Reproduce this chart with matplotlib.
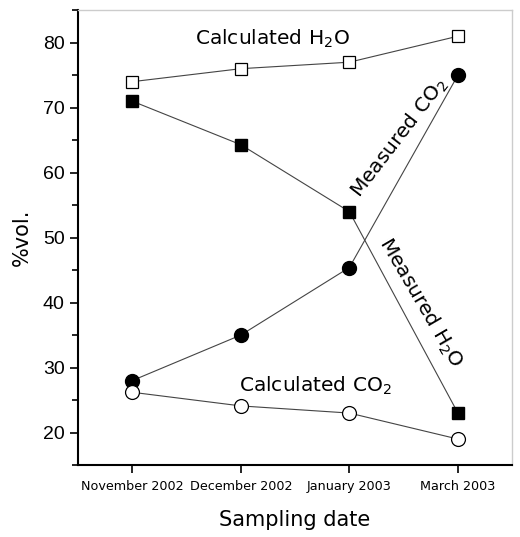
import numpy as np
import matplotlib.pyplot as plt
from matplotlib.ticker import MultipleLocator

# Data ------------------------------------------------------------
dates = ["November 2002", "December 2002", "January 2003", "March 2003"]
calc_h2o = [74.0, 76.0, 77.0, 81.0]
meas_h2o = [71.0, 64.3, 54.0, 23.0]
meas_co2 = [28.0, 35.0, 45.4, 75.0]
calc_co2 = [26.2, 24.1, 23.0, 19.0]

x = np.arange(len(dates))

# Plot ------------------------------------------------------------
fig = plt.figure(figsize=(5.2, 5.37), dpi=100)
ax = fig.add_axes([0.15, 0.134, 0.835, 0.847])

lc = "#444444"
ax.plot(x, calc_h2o, "-", color=lc, lw=0.8, marker="s", ms=8,
        mfc="white", mec="black", mew=0.9)
ax.plot(x, meas_h2o, "-", color=lc, lw=0.8, marker="s", ms=8,
        mfc="black", mec="black")
ax.plot(x, meas_co2, "-", color=lc, lw=0.8, marker="o", ms=10,
        mfc="black", mec="black")
ax.plot(x, calc_co2, "-", color=lc, lw=0.8, marker="o", ms=10,
        mfc="white", mec="black", mew=0.9)

ax.set_xlim(-0.5, 3.5)
ax.set_ylim(15, 85)
ax.set_xticks(x)
ax.set_xticklabels(dates, fontsize=9.2, family="DejaVu Sans")
ax.yaxis.set_major_locator(MultipleLocator(10))
ax.yaxis.set_minor_locator(MultipleLocator(5))
ax.set_yticks([20, 30, 40, 50, 60, 70, 80])
ax.set_yticklabels(["20", "30", "40", "50", "60", "70", "80"],
                   fontsize=14, family="Liberation Sans")

ax.tick_params(axis="both", which="both", direction="out", width=1.2)
ax.tick_params(axis="y", which="major", length=6)
ax.tick_params(axis="y", which="minor", length=4)
ax.tick_params(axis="x", which="major", length=6, pad=5)
ax.tick_params(top=False, right=False)

ax.spines["left"].set_linewidth(1.5)
ax.spines["bottom"].set_linewidth(1.5)
for s in ["top", "right"]:
    ax.spines[s].set_color("#cccccc")
    ax.spines[s].set_linewidth(1.0)

ax.set_ylabel("%vol.", fontsize=15, labelpad=8)
ax.set_xlabel("Sampling date", fontsize=15, labelpad=12)

ax.text(1.29, 80.6, "Calculated H$_2$O", fontsize=14.5, ha="center", va="center")
ax.text(1.69, 27.2, "Calculated CO$_2$", fontsize=14.5, ha="center", va="center")
ax.text(2.46, 65.4, "Measured CO$_2$", fontsize=14.5, ha="center", va="center",
        rotation=52.5, rotation_mode="anchor")
ax.text(2.66, 40.0, "Measured H$_2$O", fontsize=14.5, ha="center", va="center",
        rotation=-59.7, rotation_mode="anchor")

plt.savefig("out.png", dpi=100)
